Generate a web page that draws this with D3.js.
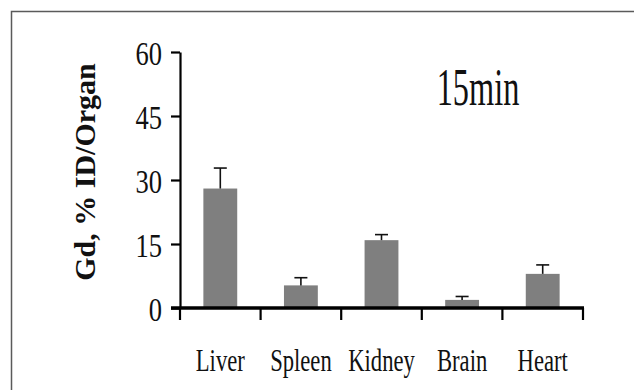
<!DOCTYPE html>
<html>
<head>
<meta charset="utf-8">
<script src="https://cdn.jsdelivr.net/npm/d3@7"></script>
<style>
  html, body { margin: 0; padding: 0; background: #fff; }
  svg { display: block; }
</style>
</head>
<body>
<div id="chart"></div>
<script>
// data
var organs = ["Liver", "Spleen", "Kidney", "Brain", "Heart"];
var means = [28.0, 5.3, 15.9, 1.9, 8.0];
var errs = [4.8, 1.8, 1.3, 0.8, 2.1];
var yTicks = [0, 15, 30, 45, 60];
var yLabel = "Gd, % ID/Organ";
var title = "15min";

var W = 634, H = 390;
var serif = "\"Liberation Serif\"";
var svg = d3.select("#chart").append("svg")
  .attr("width", W).attr("height", H);

// outer frame (only top + left visible in the picture)
svg.append("path")
  .attr("d", "M11.5," + H + "V11.5H" + W)
  .attr("fill", "none")
  .attr("stroke", "#5a5a5a")
  .attr("stroke-width", 1.5);

var x = d3.scaleBand().domain(organs).range([180, 583]);
var y = d3.scaleLinear().domain([0, 60]).range([308, 52]);

// squished text helper (the source text is narrow)
function squish(sel, k) {
  sel.attr("transform", function() {
    var t = d3.select(this);
    return "translate(" + t.attr("data-x") + "," + t.attr("data-y") + ") scale(" + k + ",1)";
  });
}

// y axis
var yAxis = svg.append("g")
  .attr("transform", "translate(180,0)")
  .call(d3.axisLeft(y).tickValues(yTicks).tickSize(9).tickSizeOuter(0).tickFormat(""));
yAxis.select(".domain").attr("stroke", "#000").attr("stroke-width", 2.2);
yAxis.selectAll(".tick line").attr("stroke", "#000").attr("stroke-width", 2.2);

svg.append("g").selectAll("text")
  .data(yTicks).enter()
  .append("text")
  .attr("data-x", 162)
  .attr("data-y", function(d) { return y(d) + 12.5; })
  .attr("text-anchor", "end")
  .style("font-family", serif)
  .attr("font-size", 34)
  .attr("fill", "#111")
  .text(function(d) { return d; })
  .call(squish, 0.78);

// bars
var bw = x.bandwidth() * 0.42;
svg.append("g").selectAll("rect")
  .data(organs).enter()
  .append("rect")
  .attr("x", function(d) { return x(d) + x.bandwidth() / 2 - bw / 2; })
  .attr("y", function(d, i) { return y(means[i]); })
  .attr("width", bw)
  .attr("height", function(d, i) { return y(0) - y(means[i]); })
  .attr("fill", "#7f7f7f");

// error bars (upper only)
var eb = svg.append("g").attr("stroke", "#111").attr("stroke-width", 1.6);
organs.forEach(function(d, i) {
  var cx = x(d) + x.bandwidth() / 2;
  eb.append("line")
    .attr("x1", cx).attr("x2", cx)
    .attr("y1", y(means[i])).attr("y2", y(means[i] + errs[i]));
  eb.append("line")
    .attr("x1", cx - 6.5).attr("x2", cx + 6.5)
    .attr("y1", y(means[i] + errs[i])).attr("y2", y(means[i] + errs[i]));
});

// x axis
var bounds = organs.map(function(d) { return x(d); }).concat(x.range()[1]);
svg.append("line")
  .attr("x1", 171).attr("x2", x.range()[1] + 1)
  .attr("y1", y(0)).attr("y2", y(0))
  .attr("stroke", "#000").attr("stroke-width", 3.5);
svg.append("g").selectAll("line")
  .data(bounds).enter()
  .append("line")
  .attr("x1", function(d) { return d; }).attr("x2", function(d) { return d; })
  .attr("y1", y(0)).attr("y2", y(0) + 12)
  .attr("stroke", "#000").attr("stroke-width", 2.2);

svg.append("g").selectAll("text")
  .data(organs).enter()
  .append("text")
  .attr("data-x", function(d) { return x(d) + x.bandwidth() / 2; })
  .attr("data-y", 371)
  .attr("text-anchor", "middle")
  .style("font-family", serif)
  .attr("font-size", 31)
  .attr("fill", "#111")
  .text(function(d) { return d; })
  .call(squish, 0.73);

// y label
svg.append("text")
  .attr("transform", "translate(95,172) rotate(-90)")
  .attr("text-anchor", "middle")
  .style("font-family", serif)
  .attr("font-size", 30)
  .attr("font-weight", "bold")
  .attr("fill", "#111")
  .text(yLabel);

// title
svg.append("text")
  .attr("data-x", 478)
  .attr("data-y", 105)
  .attr("text-anchor", "middle")
  .style("font-family", serif)
  .attr("font-size", 53)
  .attr("fill", "#111")
  .text(title)
  .call(squish, 0.61);
</script>
</body>
</html>
